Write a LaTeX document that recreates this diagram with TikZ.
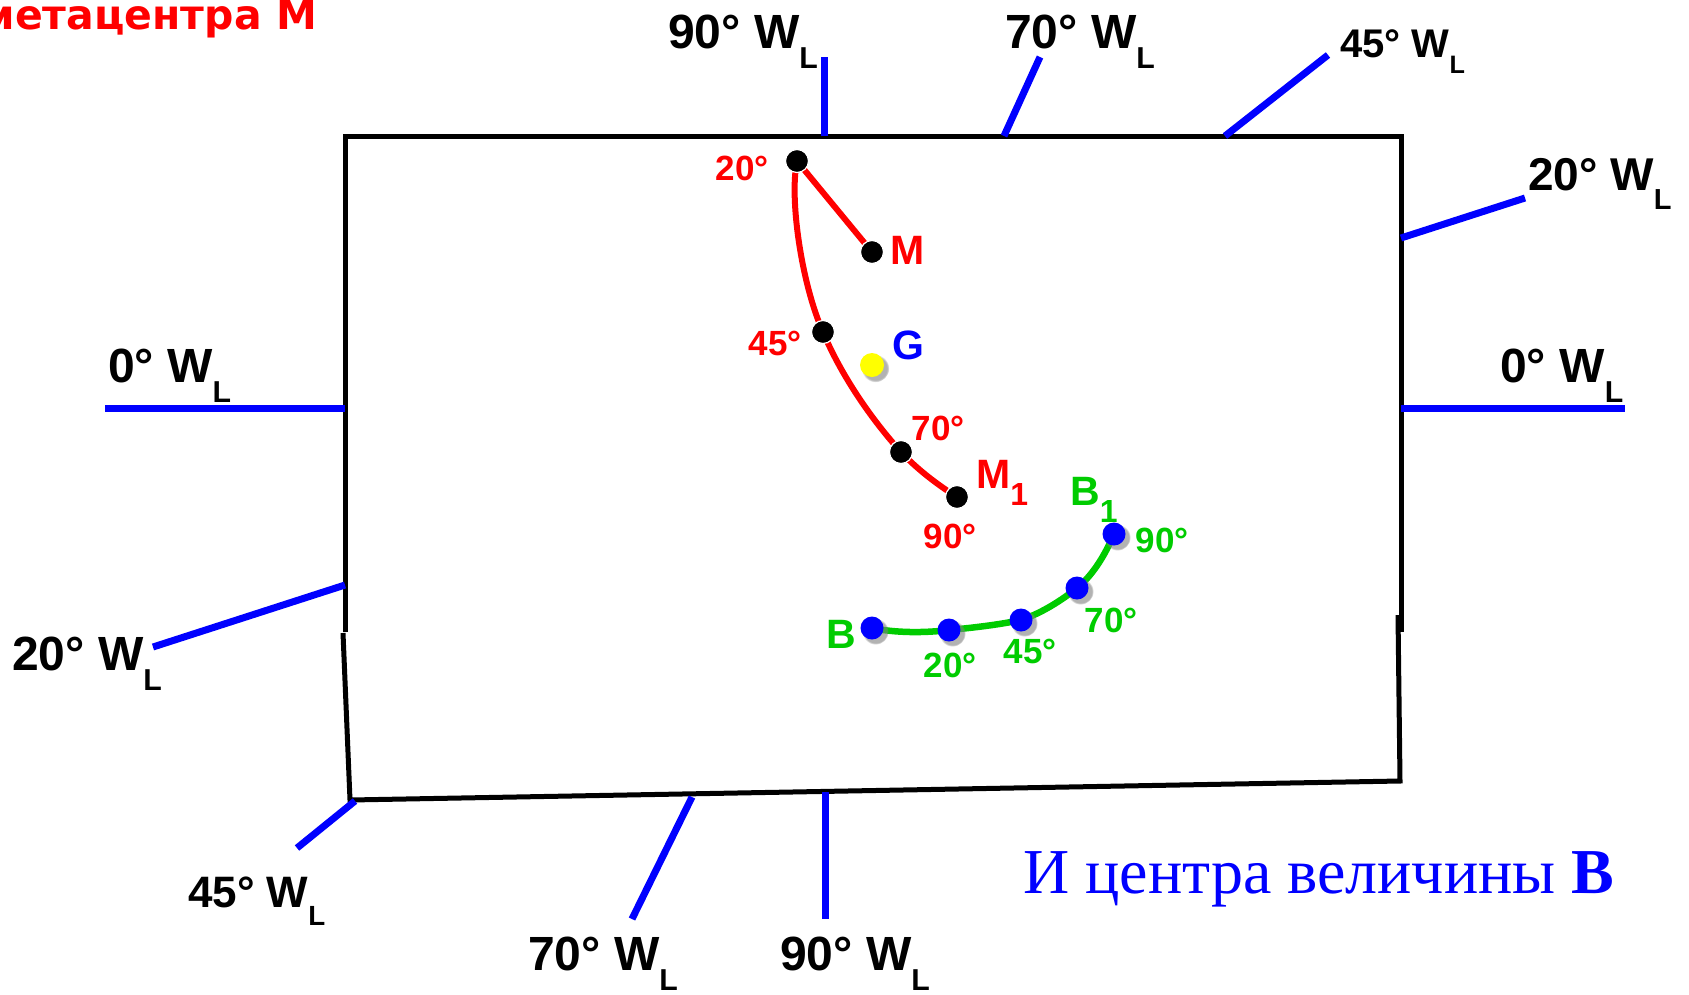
\documentclass[tikz,border=0pt]{standalone}
\usepackage{fontspec}
\setmainfont{Liberation Sans}
\newfontfamily\dejavu{DejaVu Sans}
\newfontfamily\tnr{Liberation Serif}
\usetikzlibrary{shadows}
\definecolor{cred}{RGB}{255,0,0}
\definecolor{cgreen}{RGB}{0,204,0}
\definecolor{cblue}{RGB}{0,0,255}
\definecolor{cyel}{RGB}{255,255,0}
\newcommand\fs[1]{\fontsize{#1}{#1}\selectfont}
\newcommand\lsub[1]{\raisebox{-0.42em}{\scalebox{0.63}{#1}}}
\newcommand\nsub[1]{\raisebox{-0.42em}{\scalebox{0.78}{#1}}}
\begin{document}
\begin{tikzpicture}[x=1pt,y=-1pt,
  wline/.style={draw=cblue, line width=7pt},
  hull/.style={draw=black, line width=5pt, line join=miter},
  wl/.style={anchor=base west, inner sep=0pt, font=\bfseries\fs{48}},
  deg/.style={anchor=center, inner sep=0pt, font=\bfseries\fs{35}},
  big/.style={inner sep=0pt, font=\bfseries\fs{41}},
  mdot/.style={circle, fill=black, draw=white, line width=1.2pt, minimum size=23pt, inner sep=0pt},
  shd/.style={circular drop shadow={shadow xshift=3pt, shadow yshift=-3pt, shadow scale=1.15, opacity=0.6}},
  bdot/.style={circle, fill=cblue, minimum size=23pt, inner sep=0pt, shd},
  ydot/.style={circle, fill=cyel, minimum size=24pt, inner sep=0pt, shd},
  redc/.style={draw=cred, line width=6pt},
  grnc/.style={draw=cgreen, line width=6.5pt},
]
\fill[white] (0,0) rectangle (1689,994);
\useasboundingbox (0,0) rectangle (1689,994);

% hull
\draw[hull] (345,632) -- (345,136) -- (1401,136) -- (1401,632);
\draw[hull] (343,633) -- (350,800) -- (1400,781) -- (1398,615);

% waterlines
\draw[wline] (824,136) -- (824,57);
\draw[wline] (1004,136) -- (1040,57);
\draw[wline] (1225,136) -- (1328,55);
\draw[wline] (1401,238) -- (1525,198);
\draw[wline] (1401,408) -- (1625,408);
\draw[wline] (345,408) -- (105,408);
\draw[wline] (345,585) -- (153,647);
\draw[wline] (355,801) -- (297,848);
\draw[wline] (692,797) -- (632,919);
\draw[wline] (825,792) -- (825,919);

% waterline labels
\node[wl] (t90) at (668,48) {90° W\lsub{L}};
\node[wl] (t70) at (1005,48) {70° W\lsub{L}};
\node[wl, font=\bfseries\fs{40}] (t45) at (1340,57) {45° W\lsub{L}};
\node[wl, font=\bfseries\fs{46}] (r20) at (1528,190) {20° W\lsub{L}};
\node[wl] (r0) at (1500,382) {0° W\lsub{L}};
\node[wl] (l0) at (108,382) {0° W\lsub{L}};
\node[wl] (l20) at (12,670) {20° W\lsub{L}};
\node[wl, font=\bfseries\fs{44}] (b45) at (188,907) {45° W\lsub{L}};
\node[wl] (b70) at (528,970) {70° W\lsub{L}};
\node[wl] (b90) at (780,970) {90° W\lsub{L}};

% titles
\node[anchor=base east, inner sep=0pt, text=cred, font=\dejavu\bfseries\fs{41}] (title) at (317,29) {метацентра М};
\node[anchor=base west, inner sep=0pt, text=cblue, font=\tnr\fs{64}] (cap) at (1023,893) {И центра величины \textbf{В}};

% metacentre curve
\coordinate (m20) at (797,161);
\coordinate (m0) at (872,252);
\coordinate (m45) at (823,332);
\coordinate (m70) at (901,452);
\coordinate (m90) at (957,497);
\coordinate (gg) at (872,365);
\draw[redc] (m20) -- (m0);
\draw[redc] (m20) .. controls (789,200) and (802,285) .. (m45)
  .. controls (838,368) and (865,412) .. (m70)
  .. controls (918,470) and (938,485) .. (m90);
\node[mdot] (dm20) at (m20) {};
\node[mdot] (dm0) at (m0) {};
\node[mdot] (dm45) at (m45) {};
\node[mdot] (dm70) at (m70) {};
\node[mdot] (dm90) at (m90) {};
\node[ydot] (dg) at (gg) {};

\node[deg, text=cred] (lm20) at (742,168) {20°};
\node[deg, text=cred] (lm45) at (775,343) {45°};
\node[deg, text=cred] (lm70) at (938,428) {70°};
\node[deg, text=cred] (lm90) at (950,536) {90°};
\node[big, text=cred, anchor=center] (lM) at (908,250) {M};
\node[big, text=cblue, anchor=center] (lG) at (908,345) {G};
\node[big, text=cred, anchor=base west] (lM1) at (976,488) {M\nsub{1}};

% buoyancy curve
\coordinate (b0) at (872,628);
\coordinate (b20) at (949,630);
\coordinate (b45) at (1021,620);
\coordinate (b70) at (1077,588);
\coordinate (b90) at (1114,534);
\draw[grnc] (b0) .. controls (895,633) and (925,633) .. (b20)
  .. controls (970,628) and (998,625) .. (b45)
  .. controls (1042,613) and (1062,600) .. (b70)
  .. controls (1093,575) and (1105,555) .. (b90);
\node[bdot] (db0) at (b0) {};
\node[bdot] (db20) at (b20) {};
\node[bdot] (db45) at (b45) {};
\node[bdot] (db70) at (b70) {};
\node[bdot] (db90) at (b90) {};

\node[deg, text=cgreen] (lb20) at (950,665) {20°};
\node[deg, text=cgreen] (lb45) at (1030,651) {45°};
\node[deg, text=cgreen] (lb70) at (1111,620) {70°};
\node[deg, text=cgreen] (lb90) at (1162,540) {90°};
\node[big, text=cgreen, anchor=center] (lB) at (841,634) {B};
\node[big, text=cgreen, anchor=base west] (lB1) at (1070,505) {B\nsub{1}};
\end{tikzpicture}
\end{document}
